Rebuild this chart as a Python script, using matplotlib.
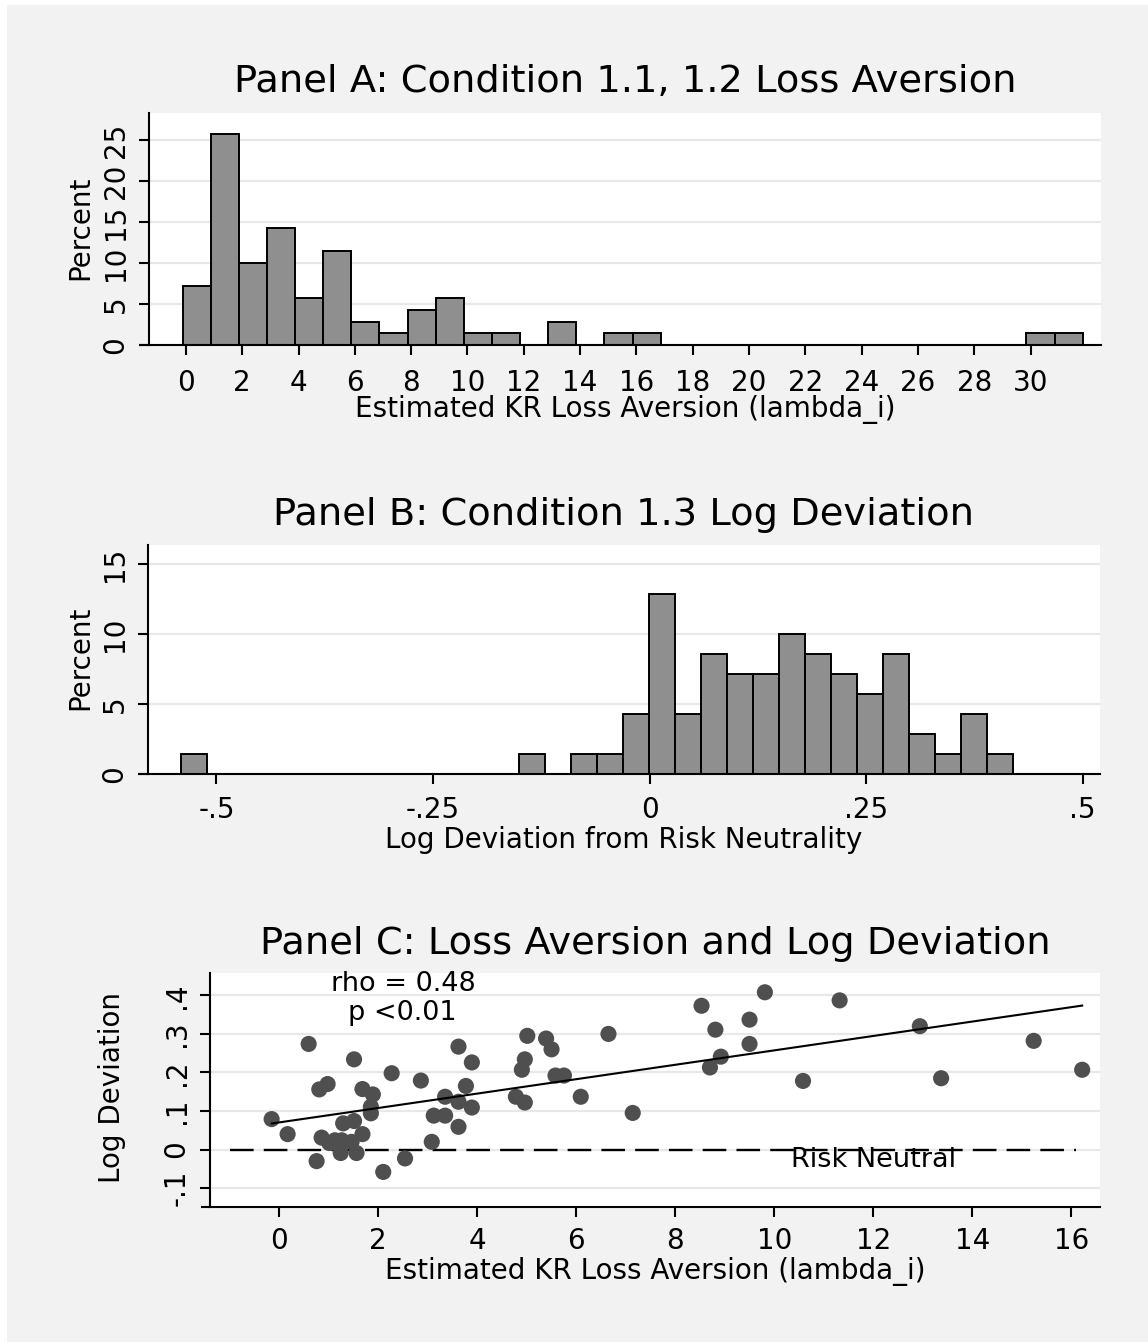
import numpy as np
import matplotlib
matplotlib.use("Agg")
import matplotlib.pyplot as plt
from matplotlib.patches import Rectangle

plt.rcParams['font.family'] = ['DejaVu Sans']

# ---------------- data ----------------
# Panel A: histogram of estimated KR loss aversion (counts per bin, N = 70)
n_obs = 70
a_bin_start = -0.12
a_bin_width = 0.999
a_counts = [5, 18, 7, 10, 4, 8, 2, 1, 3, 4, 1, 1, 0, 2, 0, 1, 1,
            0, 0, 0, 0, 0, 0, 0, 0, 0, 0, 0, 0, 0, 1, 1]
a_xticks = list(range(0, 31, 2))

# Panel B: histogram of log deviation from risk neutrality (counts per bin)
b_bin_start = -0.541
b_bin_width = 0.03003
b_counts = [1, 0, 0, 0, 0, 0, 0, 0, 0, 0, 0, 0, 0, 1, 0, 1, 1, 3, 9, 3,
            6, 5, 5, 7, 6, 5, 4, 6, 2, 1, 3, 1]
b_xticks = [-0.5, -0.25, 0, 0.25, 0.5]
b_xticklabels = ['-.5', '-.25', '0', '.25', '.5']

# Panel C: scatter of loss aversion vs log deviation
lam = [-0.155, 0.168, 0.593, 0.754, 0.808, 0.976, 0.855, 1.01, 1.125, 1.26,
       1.24, 1.29, 1.46, 1.51, 1.56, 1.51, 1.68, 1.68, 1.89, 1.85,
       1.85, 2.10, 2.27, 2.54, 2.86, 3.08, 3.12, 3.35, 3.35, 3.62,
       3.62, 3.62, 3.77, 3.89, 3.89, 4.78, 4.96, 4.90, 4.96, 5.01,
       5.39, 5.50, 5.58, 5.75, 6.09, 6.65, 7.14, 8.53, 8.70, 8.81,
       8.92, 9.50, 9.50, 9.81, 10.58, 11.32, 12.94, 13.37, 15.24, 16.22]
logdev = [0.079, 0.040, 0.274, -0.030, 0.156, 0.170, 0.031, 0.017, 0.024, 0.024,
          -0.009, 0.068, 0.020, 0.074, -0.009, 0.234, 0.040, 0.157, 0.143, 0.111,
          0.094, -0.058, 0.198, -0.023, 0.179, 0.020, 0.088, 0.088, 0.137, 0.267,
          0.124, 0.059, 0.165, 0.226, 0.109, 0.137, 0.122, 0.207, 0.234, 0.295,
          0.288, 0.260, 0.192, 0.192, 0.137, 0.300, 0.095, 0.373, 0.213, 0.311,
          0.241, 0.337, 0.274, 0.408, 0.178, 0.387, 0.320, 0.185, 0.282, 0.207]
c_xticks = list(range(0, 17, 2))
c_yticks = [-0.1, 0, 0.1, 0.2, 0.3, 0.4]
c_yticklabels = ['-.1', '0', '.1', '.2', '.3', '.4']
rho_text = "rho = 0.48"
p_text = "p <0.01"

# ---------------- style ----------------
W, H = 1148, 1342
BG = '#f2f2f2'
GRID = '#e8e8e8'
BAR = '#8f8f8f'
DOT = '#4f4f4f'
TICK_FS = 20
LAB_FS = 20
NOTE_FS = 19.5
TITLE_FS = 27.6
LW = 1.5

fig = plt.figure(figsize=(W / 100, H / 100), dpi=100)
fig.patch.set_facecolor('white')
fig.patches.append(Rectangle((7 / W, 0), 1, 1 - 5 / H, transform=fig.transFigure,
                             facecolor=BG, edgecolor='none', zorder=-10))


def box(l, r, t, b):
    return [l / W, 1 - b / H, (r - l) / W, (b - t) / H]


def style(ax, xpad):
    ax.set_facecolor('white')
    for s in ['top', 'right']:
        ax.spines[s].set_visible(False)
    for s in ['left', 'bottom']:
        ax.spines[s].set_linewidth(LW)
        ax.spines[s].set_color('black')
    ax.tick_params(axis='both', length=7, width=LW, labelsize=TICK_FS, color='black')
    ax.tick_params(axis='x', pad=xpad)
    ax.tick_params(axis='y', pad=7)
    for lab in ax.get_yticklabels():
        lab.set_rotation(90)
        lab.set_va('center')
    ax.grid(axis='y', color=GRID, linewidth=1.6, zorder=0)
    ax.set_axisbelow(True)
    # Stata-style x axis line extending under the y ticks
    ax.plot([-0.0105, 0], [0, 0], transform=ax.transAxes, color='black',
            lw=LW, clip_on=False, solid_capstyle='butt')


# ---------------- Panel A ----------------
axA = fig.add_axes(box(149, 1101, 113, 345))
a_edges = a_bin_start + a_bin_width * np.arange(len(a_counts))
a_pct = np.array(a_counts) / n_obs * 100
mask = a_pct > 0
axA.bar(a_edges[mask], a_pct[mask], width=a_bin_width, align='edge', color=BAR,
        edgecolor='black', linewidth=1.4, zorder=2)
axA.set_xlim(-1.31, 32.5)
axA.set_ylim(0, 28.3)
axA.set_xticks(a_xticks)
axA.set_yticks([0, 5, 10, 15, 20, 25])
style(axA, 10)
axA.set_xlabel("Estimated KR Loss Aversion (lambda_i)", fontsize=LAB_FS, va='center')
axA.xaxis.set_label_coords(0.5, -0.279)
axA.set_ylabel("Percent", fontsize=LAB_FS, va='center')
axA.yaxis.set_label_coords(-0.0725, 0.504)
axA.set_title("Panel A: Condition 1.1, 1.2 Loss Aversion", fontsize=TITLE_FS,
              y=1.099, va='center')

# ---------------- Panel B ----------------
axB = fig.add_axes(box(148, 1100, 545, 774))
b_edges = b_bin_start + b_bin_width * np.arange(len(b_counts))
b_pct = np.array(b_counts) / n_obs * 100
mask = b_pct > 0
axB.bar(b_edges[mask], b_pct[mask], width=b_bin_width, align='edge', color=BAR,
        edgecolor='black', linewidth=1.4, zorder=2)
axB.set_xlim(-0.579, 0.520)
axB.set_ylim(0, 16.35)
axB.set_xticks(b_xticks)
axB.set_xticklabels(b_xticklabels)
axB.set_yticks([0, 5, 10, 15])
style(axB, 8.5)
axB.set_xlabel("Log Deviation from Risk Neutrality", fontsize=LAB_FS, va='center')
axB.xaxis.set_label_coords(0.5, -0.29)
axB.set_ylabel("Percent", fontsize=LAB_FS, va='center')
axB.yaxis.set_label_coords(-0.0714, 0.507)
axB.set_title("Panel B: Condition 1.3 Log Deviation", fontsize=TITLE_FS,
              y=1.096, va='center')

# ---------------- Panel C ----------------
axC = fig.add_axes(box(210, 1100, 973, 1207))
lam_a = np.array(lam)
dev_a = np.array(logdev)
axC.scatter(lam_a, dev_a, s=135, color=DOT, edgecolors='none', zorder=3)
slope, intercept = np.polyfit(lam_a, dev_a, 1)
xs = np.array([lam_a.min(), lam_a.max()])
axC.plot(xs, intercept + slope * xs, color='black', lw=1.5, zorder=4)
axC.plot([-1.0, 16.1], [0, 0], color='black', lw=1.7, dashes=(10, 4.3), zorder=2)
axC.text(12.0, 0.006, "Risk Neutral", fontsize=NOTE_FS, ha='center', va='top', zorder=5)
axC.text(2.51, 0.43, rho_text, fontsize=NOTE_FS, ha='center', va='center', zorder=5)
axC.text(2.49, 0.354, p_text, fontsize=NOTE_FS, ha='center', va='center', zorder=5)
axC.set_xlim(-1.40, 16.58)
axC.set_ylim(-0.149, 0.458)
axC.set_xticks(c_xticks)
axC.set_yticks(c_yticks)
axC.set_yticklabels(c_yticklabels)
style(axC, 7.5)
axC.set_xlabel("Estimated KR Loss Aversion (lambda_i)", fontsize=LAB_FS, va='center')
axC.xaxis.set_label_coords(0.5, -0.276)
axC.set_ylabel("Log Deviation", fontsize=LAB_FS, va='center')
axC.yaxis.set_label_coords(-0.1096, 0.509)
axC.set_title("Panel C: Loss Aversion and Log Deviation", fontsize=TITLE_FS,
              y=1.087, va='center')

fig.savefig("out.png", dpi=100, facecolor=fig.get_facecolor())
